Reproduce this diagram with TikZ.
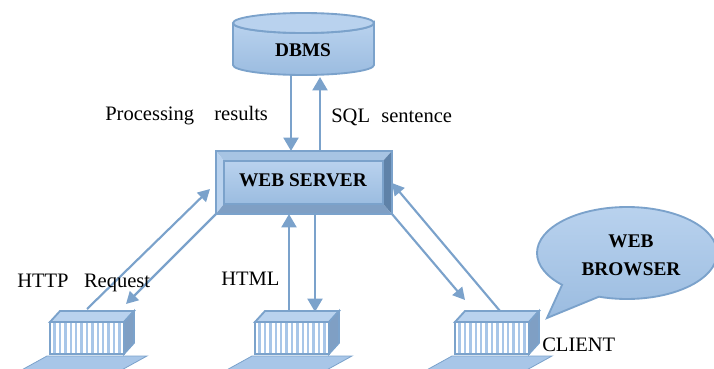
\documentclass[tikz,border=0pt]{standalone}
\usepackage{fontspec}
\setmainfont{Liberation Serif}
\usetikzlibrary{arrows.meta,shapes.callouts}
\definecolor{edgeblue}{HTML}{7BA2CB}
\definecolor{topblue}{HTML}{B9D2EE}
\definecolor{lowblue}{HTML}{9BBCE0}
\definecolor{sideblue}{HTML}{7F9FC4}
\definecolor{darkblue}{HTML}{5F82A8}
\definecolor{stripeblue}{HTML}{A8C6E8}
\tikzset{
	label/.style={font=\fontsize{15.4}{18}\selectfont,inner sep=0pt,anchor=base west},
	title/.style={font=\fontsize{14.5}{21}\selectfont\bfseries,inner sep=0pt,align=center},
	flow/.style={draw=edgeblue,line width=2.2pt,-{Triangle[length=10pt,width=11pt]}},
	link/.style={draw=edgeblue,line width=1.6pt,-{Triangle[length=9pt,width=9.5pt]}},
}
\begin{document}
\begin{tikzpicture}[x=0.75pt,y=-0.75pt]
	\useasboundingbox (0,0) rectangle (714,368);
	\path
	(233,23) coordinate (DL)
	(374,23) coordinate (DR)
	(216,151) coordinate (A)
	(392,151) coordinate (B)
	(392,214) coordinate (C)
	(216,214) coordinate (D)
	(224,161) coordinate (A')
	(383,161) coordinate (B')
	(383,204) coordinate (C')
	(224,204) coordinate (D');
	% database
	\draw[edgeblue,line width=1.4pt,top color=topblue,bottom color=lowblue]
	(DL)--(233,65) arc (180:0:70.5 and 10)--(DR) arc (0:180:70.5 and 10);
	\draw[edgeblue,line width=1.4pt,fill=topblue] (303.5,23) ellipse (70.5 and 10);
	\node[title] (dbms) at (303,50) {DBMS};
	% server
	\fill[topblue!70!edgeblue] (A)--(B)--(B')--(A')--cycle;
	\fill[topblue] (A)--(D)--(D')--(A')--cycle;
	\fill[darkblue] (B)--(C)--(C')--(B')--cycle;
	\fill[sideblue] (C)--(D)--(D')--(C')--cycle;
	\draw[edgeblue,line width=1.6pt] (A)--(B)--(C)--(D)--cycle;
	\draw[edgeblue,line width=1.4pt,top color=topblue,bottom color=lowblue] (A') rectangle (C');
	\node[title] (web) at (303,180) {WEB SERVER};
	% clients
	\foreach \x in {0,205,405}{
		\begin{scope}[shift={(\x,0)}]
			\fill[stripeblue,draw=edgeblue,line width=.6pt] (47,356)--(147,356)--(118,372)--(18,372)--cycle;
			\fill[white] (50,322) rectangle (124,354);
			\foreach \s in {0,...,12}
			\draw[stripeblue,line width=1.8pt] (54.5+5.4*\s,322)--(54.5+5.4*\s,354);
			\draw[edgeblue,line width=1.8pt] (50,322) rectangle (124,354);
			\fill[topblue,draw=edgeblue,line width=1.4pt] (50,322)--(60,311)--(134,311)--(124,322)--cycle;
			\fill[sideblue,draw=edgeblue,line width=1.2pt] (124,322)--(134,311)--(134,343)--(124,354)--cycle;
		\end{scope}
	}
	% arrows
	\path
	(291,76) coordinate (p1) (291,151) coordinate (q1)
	(320,151) coordinate (p2) (320,77) coordinate (q2)
	(87,309) coordinate (p3) (210,189) coordinate (q3)
	(216,214) coordinate (p4) (126,304) coordinate (q4)
	(289,310) coordinate (p5) (289,214) coordinate (q5)
	(315,214) coordinate (p6) (315,312) coordinate (q6)
	(500,311) coordinate (p7) (392,183) coordinate (q7)
	(392,214) coordinate (p8) (465,300) coordinate (q8);
	\foreach \i in {1,2,5,6}\draw[flow] (p\i)--(q\i);
	\foreach \i in {3,4,7,8}\draw[link] (p\i)--(q\i);
	% labels
	\node[label] (proc) at (105,120) {Processing\hspace{.98em}results};
	\node[label] (sql) at (331,122) {SQL\hspace{.55em}sentence};
	\node[label] (http) at (17,287) {HTTP\hspace{.75em}Request};
	\node[label] (html) at (221,285) {HTML};
	\node[label] (client) at (542,351) {CLIENT};
	\node[ellipse callout,draw=edgeblue,line width=1.4pt,top color=topblue,bottom color=lowblue,
	minimum width=135pt,minimum height=69pt,inner sep=0pt,
	callout absolute pointer={(547,318)},callout pointer arc=28] (bubble) at (627,253) {};
	\node[title] (browser) at (631,255) {WEB\\BROWSER};
\end{tikzpicture}
\end{document}
